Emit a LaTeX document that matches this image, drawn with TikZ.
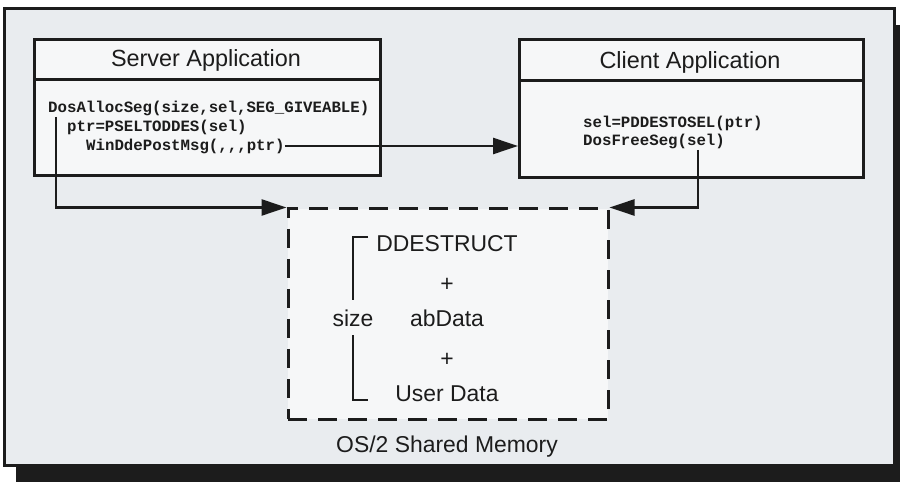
\documentclass[tikz,border=0pt]{standalone}
\usepackage{fontspec}
\setmainfont{Liberation Sans}
\newfontfamily\codefont{Liberation Mono}
\usetikzlibrary{arrows.meta}
\definecolor{panel}{HTML}{E9ECEF}
\definecolor{paper}{HTML}{F6F7F8}
\definecolor{ink}{HTML}{1C1C1C}

\begin{document}
\begin{tikzpicture}[x=1bp,y=-1bp,
  rule/.style={draw=ink, line width=3bp},
  appbox/.style={rule, fill=paper, anchor=north west, inner sep=0pt,
    minimum width=346bp, minimum height=136bp},
  title/.style={font=\fontsize{23.5}{28}\selectfont, anchor=base, inner sep=0pt, text=ink},
  code/.style={font=\codefont\bfseries\fontsize{15.8}{18}\selectfont, anchor=base west,
    inner sep=0pt, text=ink},
  memtext/.style={font=\fontsize{23}{27}\selectfont, anchor=base, inner sep=0pt, text=ink},
  flow/.style={draw=ink, line width=2.5bp, -{Triangle[length=25bp,width=16bp]}},
  brace/.style={draw=ink, line width=2.5bp}
]
\useasboundingbox (0,0) rectangle (900,482);
\fill[white] (0,0) rectangle (900,482);

% drop shadow and outer panel
\fill[ink] (16,466) rectangle (900,482);
\fill[ink] (895,25) rectangle (900,482);
\draw[rule, fill=panel] (4,9) rectangle (894,465);

% application boxes
\node[appbox] (srv) at (33,38) {};
\draw[rule] (33,80) -- (379,80);
\node[title] (srvtitle) at (206,67) {Server Application};

\node[appbox, minimum width=344bp, minimum height=138bp] (cli) at (518,38) {};
\draw[rule] (518,81) -- (862,81);
\node[title] (clititle) at (690,69) {Client Application};

% server calls
\node[code] (s1) at (48,113) {DosAllocSeg(size,sel,SEG\_GIVEABLE)};
\node[code] (s2) at (67,132) {ptr=PSELTODDES(sel)};
\node[code] (s3) at (86,151) {WinDdePostMsg(,,,ptr)};

% client calls
\node[code] (c1) at (583,128) {sel=PDDESTOSEL(ptr)};
\node[code] (c2) at (583,146) {DosFreeSeg(sel)};

% shared memory block
\node[rule, fill=paper, dash pattern=on 19bp off 11bp, minimum width=320bp,
  minimum height=210bp, inner sep=0pt] (mem) at (448,314) {};

\node[memtext] (ddes) at (447,252) {DDESTRUCT};
\node[memtext] (plus1) at (447,292) {+};
\node[memtext] (abd) at (447,327) {abData};
\node[memtext] (plus2) at (447,366) {+};
\node[memtext] (usr) at (447,401) {User Data};
\node[memtext] (size) at (353,327) {size};
\node[memtext] (shm) at (447,452) {OS/2 Shared Memory};

\draw[brace] (368,237) -| (353,300);
\draw[brace] (353,335) |- (368,400);

% connectors
\coordinate (sdrop) at (56,117);
\coordinate (cdrop) at (698,150);
\draw[flow] (s3.east |- 0,146) -- (cli.west |- 0,146);
\draw[flow] (sdrop) |- (mem.north west);
\draw[flow] (cdrop) |- (mem.north east);
\end{tikzpicture}
\end{document}
